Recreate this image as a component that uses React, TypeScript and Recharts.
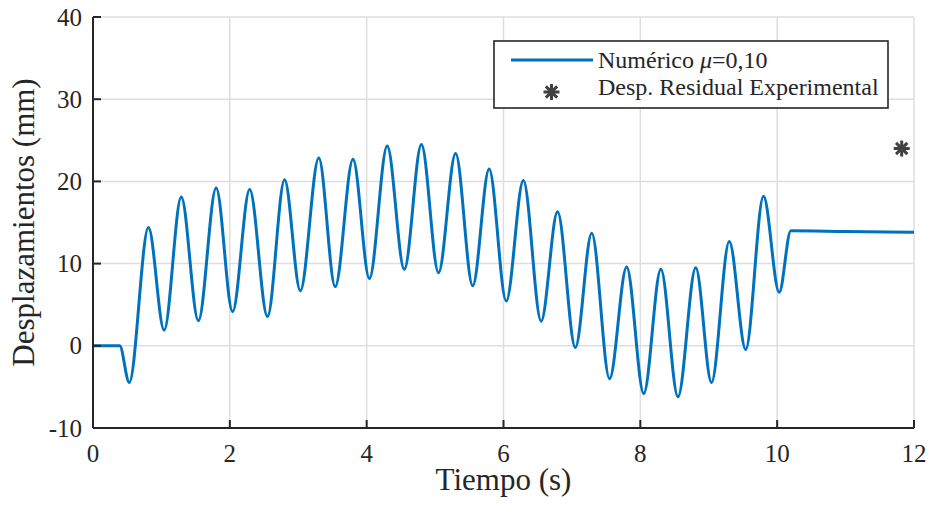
import {
  ComposedChart,
  Line,
  Scatter,
  XAxis,
  YAxis,
  CartesianGrid,
  Legend,
  Label,
} from "recharts";

const tiempo = [
  0, 0.39, 0.53, 0.81, 1.04, 1.29, 1.54, 1.8, 2.04, 2.29, 2.55, 2.8, 3.03,
  3.3, 3.54, 3.8, 4.04, 4.3, 4.55, 4.8, 5.05, 5.3, 5.55, 5.79, 6.04, 6.29,
  6.55, 6.79, 7.05, 7.29, 7.55, 7.8, 8.05, 8.3, 8.55, 8.81, 9.04, 9.3, 9.54,
  9.8, 10.03, 10.2, 11.0, 12.0,
];
const desplazamiento = [
  0, 0, -4.46, 14.4, 1.9, 18.1, 3.05, 19.2, 4.15, 19.0, 3.55, 20.2, 6.7,
  22.85, 7.2, 22.7, 8.2, 24.3, 9.3, 24.5, 8.9, 23.4, 7.3, 21.5, 5.45, 20.1,
  3.0, 16.3, -0.2, 13.7, -4.0, 9.6, -5.8, 9.3, -6.2, 9.5, -4.45, 12.7, -0.45,
  18.2, 6.5, 14.0, 13.9, 13.8,
];
const residualTiempo = [11.82];
const residualDesp = [24.0];

const xTicks = [0, 2, 4, 6, 8, 10, 12];
const yTicks = [-10, 0, 10, 20, 30, 40];

const numerico = tiempo.map((t, i) => ({ t, d: desplazamiento[i] }));
const residual = residualTiempo.map((t, i) => ({ t, d: residualDesp[i] }));

const FONT = "'Liberation Serif', 'DejaVu Serif', serif";
const INK = "#262626";
const BLUE = "#0072BD";
const STAR = "#404040";

const Asterisk = ({ cx, cy, r = 8, sw = 3 }: any) => {
  const d = r * 0.7071;
  return (
    <g stroke={STAR} strokeWidth={sw} strokeLinecap="butt">
      <line x1={cx} y1={cy - r} x2={cx} y2={cy + r} />
      <line x1={cx - r} y1={cy} x2={cx + r} y2={cy} />
      <line x1={cx - d} y1={cy - d} x2={cx + d} y2={cy + d} />
      <line x1={cx - d} y1={cy + d} x2={cx + d} y2={cy - d} />
    </g>
  );
};

const BottomTick = ({ x, y, payload }: any) => (
  <g>
    <line x1={x} x2={x} y1={y} y2={y - 8} stroke={INK} strokeWidth={2} />
    <text x={x} y={y + 34} textAnchor="middle" fontSize={25} fill={INK} fontFamily={FONT}>
      {payload.value}
    </text>
  </g>
);

const TopTick = ({ x, y }: any) => (
  <line x1={x} x2={x} y1={y} y2={y + 8} stroke={INK} strokeWidth={2} />
);

const LeftTick = ({ x, y, payload }: any) => (
  <g>
    <line x1={x} x2={x + 8} y1={y} y2={y} stroke={INK} strokeWidth={2} />
    <text x={x - 11} y={y} dy="0.34em" textAnchor="end" fontSize={25} fill={INK} fontFamily={FONT}>
      {payload.value}
    </text>
  </g>
);

const RightTick = ({ x, y }: any) => (
  <line x1={x} x2={x - 8} y1={y} y2={y} stroke={INK} strokeWidth={2} />
);

const LegendBox = () => (
  <svg
    width={396}
    height={69}
    style={{ position: "absolute", left: 493, top: 40 }}
    fontFamily={FONT}
  >
    <rect x={1} y={1} width={394} height={67} fill="#fff" stroke={INK} strokeWidth={1.6} />
    <line x1={18} x2={100} y1={20} y2={20} stroke={BLUE} strokeWidth={3} />
    <Asterisk cx={58.5} cy={52} r={8} sw={3} />
    <text x={105} y={27.5} fontSize={24} fill={INK}>
      Numérico <tspan fontStyle="italic">μ</tspan>=0,10
    </text>
    <text x={105} y={55} fontSize={24} fill={INK}>
      Desp. Residual Experimental
    </text>
  </svg>
);

export default function App() {
  return (
    <div style={{ position: "absolute", left: 0, top: 0 }}>
      <ComposedChart
        width={931}
        height={511}
        margin={{ top: 17, right: 17, bottom: 0, left: 0 }}
        style={{ background: "#fff" }}
      >
        <CartesianGrid stroke="#dedede" strokeWidth={1.5} vertical horizontal />
        <XAxis
          dataKey="t"
          type="number"
          domain={[0, 12]}
          ticks={xTicks}
          allowDataOverflow
          height={83}
          tickSize={0}
          tickMargin={0}
          tickLine={false}
          axisLine={{ stroke: INK, strokeWidth: 2 }}
          tick={<BottomTick />}
        >
          <Label
            value="Tiempo (s)"
            position="insideBottom"
            offset={21}
            style={{ fontSize: 31, fontFamily: FONT, fill: INK }}
          />
        </XAxis>
        <XAxis
          xAxisId="top"
          orientation="top"
          type="number"
          domain={[0, 12]}
          ticks={xTicks}
          allowDataOverflow
          height={0}
          tickSize={0}
          tickMargin={0}
          tickLine={false}
          axisLine={{ stroke: INK, strokeWidth: 2 }}
          tick={<TopTick />}
        />
        <YAxis
          type="number"
          domain={[-10, 40]}
          ticks={yTicks}
          allowDataOverflow
          width={93}
          tickSize={0}
          tickMargin={0}
          tickLine={false}
          axisLine={{ stroke: INK, strokeWidth: 2 }}
          tick={<LeftTick />}
        >
          <Label
            value="Desplazamientos (mm)"
            angle={-90}
            position="insideLeft"
            offset={23}
            style={{ fontSize: 31, fontFamily: FONT, fill: INK, textAnchor: "middle" }}
          />
        </YAxis>
        <YAxis
          yAxisId="right"
          orientation="right"
          type="number"
          domain={[-10, 40]}
          ticks={yTicks}
          allowDataOverflow
          width={0}
          tickSize={0}
          tickMargin={0}
          tickLine={false}
          axisLine={{ stroke: INK, strokeWidth: 2 }}
          tick={<RightTick />}
        />
        <Line
          data={numerico}
          dataKey="d"
          type="monotone"
          stroke={BLUE}
          strokeWidth={3}
          dot={false}
          isAnimationActive={false}
        />
        <Scatter
          data={residual}
          dataKey="d"
          shape={(p: any) => <Asterisk cx={p.cx} cy={p.cy} r={8} sw={3} />}
          isAnimationActive={false}
        />
        <Legend
          content={<LegendBox />}
          wrapperStyle={{ position: "absolute", left: 0, top: 0, width: 0, height: 0 }}
        />
      </ComposedChart>
    </div>
  );
}
